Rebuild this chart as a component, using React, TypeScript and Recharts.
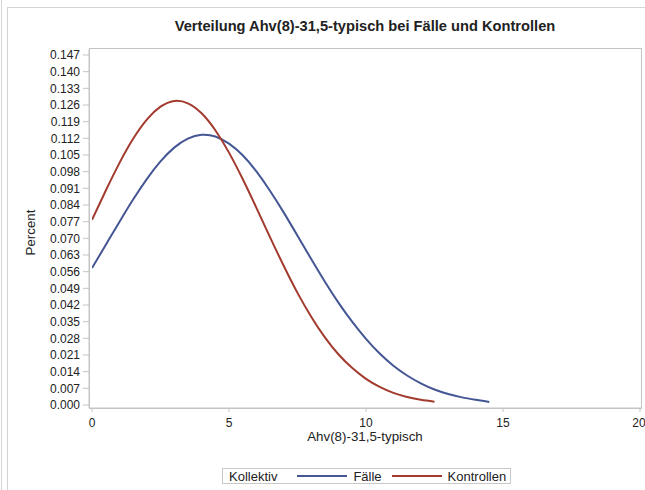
import { Label, Line, LineChart, XAxis, YAxis } from "recharts";

const FONT = '"Liberation Sans", Arial, sans-serif';
const BLUE = "#445694";
const RED = "#A23A2E";
const GRID = "#c4c4c4";
const TEXT = "#222";

const title = "Verteilung Ahv(8)-31,5-typisch bei Fälle und Kontrollen";
const xLabel = "Ahv(8)-31,5-typisch";
const yLabel = "Percent";

// values
const faelleX = [0, 0.5, 1, 1.5, 2, 2.5, 3, 3.5, 4, 4.5, 5, 5.5, 6, 6.5, 7, 7.5, 8, 8.5, 9, 9.5, 10, 10.5, 11, 11.5, 12, 12.5, 13, 13.5, 14, 14.5];
const faelleY = [0.0575, 0.0672, 0.0769, 0.0863, 0.0949, 0.1023, 0.1081, 0.1119, 0.1135, 0.1128, 0.1098, 0.1049, 0.0981, 0.0899, 0.0808, 0.0711, 0.0613, 0.0518, 0.0429, 0.0349, 0.0278, 0.0216, 0.0165, 0.0124, 0.0091, 0.0065, 0.0046, 0.0032, 0.0022, 0.0013];

const kontrollenX = [0, 0.5, 1, 1.5, 2, 2.5, 3, 3.5, 4, 4.5, 5, 5.5, 6, 6.5, 7, 7.5, 8, 8.5, 9, 9.5, 10, 10.5, 11, 11.5, 12, 12.5];
const kontrollenY = [0.0778, 0.09, 0.1016, 0.1118, 0.1199, 0.1253, 0.1277, 0.1267, 0.1225, 0.1154, 0.106, 0.0949, 0.0828, 0.0704, 0.0584, 0.0471, 0.0371, 0.0284, 0.0212, 0.0155, 0.011, 0.0076, 0.0051, 0.0034, 0.0022, 0.0014];

const yTicks = [0, 0.007, 0.014, 0.021, 0.028, 0.035, 0.042, 0.049, 0.056, 0.063, 0.07, 0.077, 0.084, 0.091, 0.098, 0.105, 0.112, 0.119, 0.126, 0.133, 0.14, 0.147];
const xTicks = [0, 5, 10, 15, 20];

const faelle = faelleX.map((x, i) => ({ x, y: faelleY[i] }));
const kontrollen = kontrollenX.map((x, i) => ({ x, y: kontrollenY[i] }));

function LegendSwatch({ color }: { color: string }) {
  return <span style={{ display: "inline-block", width: 50, height: 2, background: color }} />;
}

export default function App() {
  return (
    <div style={{ position: "absolute", left: 0, top: 0, width: 645, height: 490, overflow: "hidden", background: "#fff", fontFamily: FONT, color: TEXT }}>
      {/* page frame */}
      <div style={{ position: "absolute", left: 1, top: 0, width: 1, height: 490, background: "#d4d4d4" }} />
      <div style={{ position: "absolute", left: 7, top: 7, width: 660, height: 500, borderLeft: "1px solid #d4d4d4", borderTop: "1px solid #d4d4d4" }} />

      <div style={{ position: "absolute", left: 89, top: 18, width: 552, textAlign: "center", fontWeight: "bold", fontSize: 14.67 }}>
        {title}
      </div>

      {/* plot frame */}
      <div style={{ position: "absolute", left: 89, top: 48, width: 551, height: 359, border: `1px solid ${GRID}` }} />

      <LineChart width={645} height={490} data={faelle} margin={{ top: 49, right: 4, bottom: 42, left: 9 }} style={{ position: "absolute", left: 0, top: 0 }}>
        <XAxis
          dataKey="x"
          type="number"
          domain={[0, 20]}
          ticks={xTicks}
          allowDataOverflow
          padding={{ left: 3, right: 1 }}
          height={40}
          axisLine={{ stroke: GRID }}
          tickLine={{ stroke: GRID }}
          tickSize={4}
          tickMargin={6}
          tick={{ fill: TEXT, fontSize: 12, fontFamily: FONT }}
        >
          <Label value={xLabel} position="insideBottom" offset={7} style={{ fill: TEXT, fontSize: 13.33, fontFamily: FONT }} />
        </XAxis>
        <YAxis
          type="number"
          domain={[0, 0.147]}
          ticks={yTicks}
          allowDataOverflow
          padding={{ top: 6, bottom: 3 }}
          width={80}
          interval={0}
          axisLine={{ stroke: GRID }}
          tickLine={{ stroke: GRID }}
          tickSize={6}
          tickMargin={3}
          tickFormatter={(v: number) => v.toFixed(3)}
          tick={{ fill: TEXT, fontSize: 12, fontFamily: FONT }}
        >
          <Label value={yLabel} angle={-90} position="insideLeft" offset={21} dy={4} style={{ textAnchor: "middle", fill: TEXT, fontSize: 13.33, fontFamily: FONT }} />
        </YAxis>
        <Line data={faelle} dataKey="y" type="natural" stroke={BLUE} strokeWidth={2} dot={false} activeDot={false} isAnimationActive={false} />
        <Line data={kontrollen} dataKey="y" type="natural" stroke={RED} strokeWidth={2} dot={false} activeDot={false} isAnimationActive={false} />
      </LineChart>

      {/* legend */}
      <div
        style={{
          position: "absolute",
          left: 222,
          top: 468,
          height: 16,
          boxSizing: "border-box",
          border: "1px solid #c8c8c8",
          display: "flex",
          alignItems: "center",
          padding: "0 4px 0 6px",
          fontSize: 13,
          whiteSpace: "nowrap",
        }}
      >
        <span style={{ marginRight: 20 }}>Kollektiv</span>
        <LegendSwatch color={BLUE} />
        <span style={{ margin: "0 10px 0 6px" }}>Fälle</span>
        <LegendSwatch color={RED} />
        <span style={{ marginLeft: 6 }}>Kontrollen</span>
      </div>
    </div>
  );
}
